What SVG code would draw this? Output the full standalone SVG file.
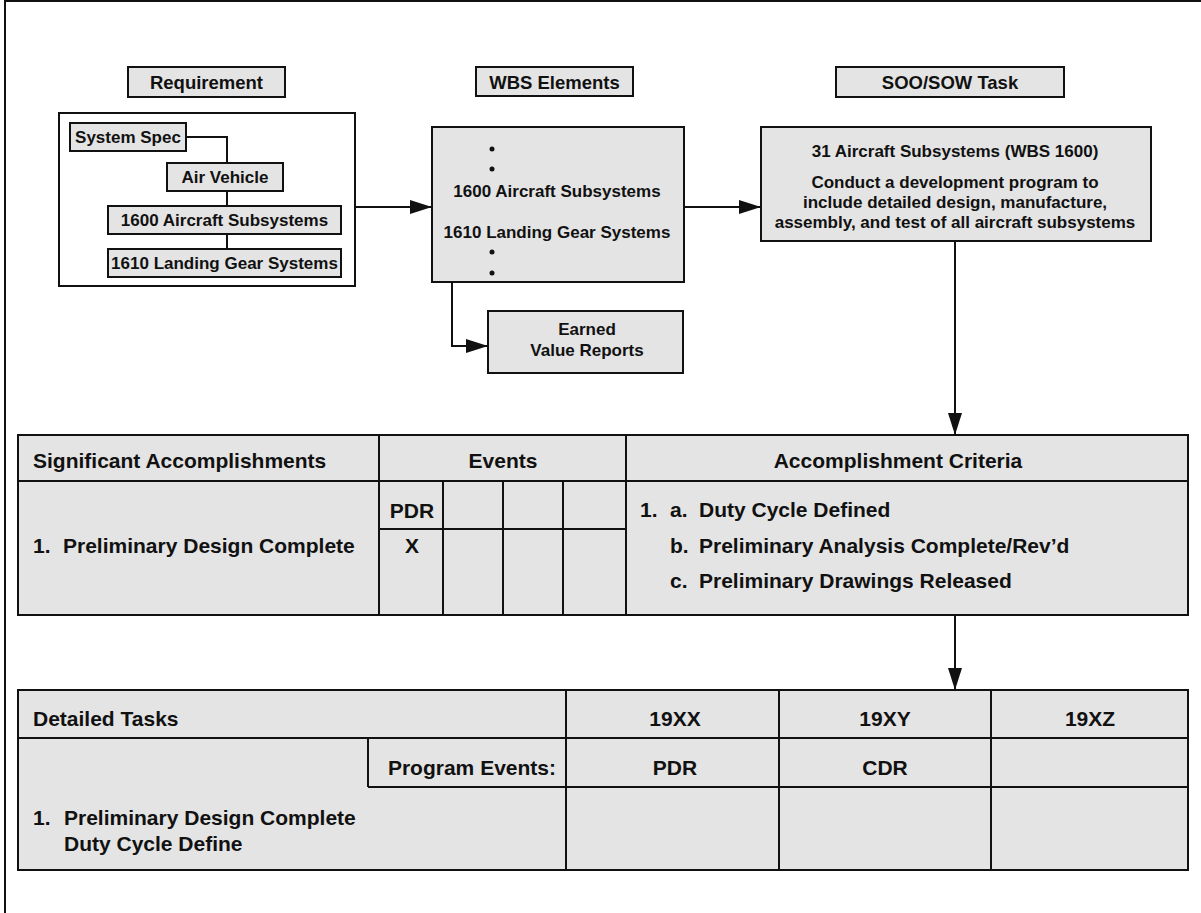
<svg xmlns="http://www.w3.org/2000/svg" width="1201" height="913" viewBox="0 0 1201 913">
<style>
text{font-family:"Liberation Sans",Arial,Helvetica,sans-serif;font-weight:bold;fill:#111}
.hd{font-size:18.5px;text-anchor:middle}
.bx{font-size:17px;text-anchor:middle}
.tb{font-size:21px}
.c{text-anchor:middle}
.r{text-anchor:end}
.box{fill:#e4e4e4;stroke:#111;stroke-width:2}
.wb{fill:#fff;stroke:#111;stroke-width:2}
.ln{stroke:#111;stroke-width:2;fill:none}
.gl{stroke:#111;stroke-width:2}
</style>
<defs>
<marker id="ah" markerWidth="22" markerHeight="14" refX="22" refY="7" orient="auto" markerUnits="userSpaceOnUse">
<path d="M0,0 L22,7 L0,14 Z" fill="#111"/>
</marker>
</defs>
<rect width="1201" height="913" fill="#fff"/>
<g id="frame">
<line x1="5" y1="1" x2="1201" y2="1" class="gl"/>
<line x1="5" y1="0" x2="5" y2="913" class="gl"/>
</g>

<g id="hdr-requirement">
<rect x="128" y="67" width="157" height="30" class="box"/>
<text x="206.5" y="89" class="hd">Requirement</text>
</g>
<g id="hdr-wbs">
<rect x="476" y="67" width="157" height="29" class="box"/>
<text x="554.5" y="89" class="hd">WBS Elements</text>
</g>
<g id="hdr-soo">
<rect x="836" y="67" width="228" height="30" class="box"/>
<text x="950" y="89" class="hd">SOO/SOW Task</text>
</g>

<g id="requirement">
<rect x="59" y="113" width="296" height="173" class="wb"/>
<g id="req-links">
<path d="M186,137 H227 V163 M227,191 V206 M227,234 V249" class="ln"/>
</g>
<g id="system-spec">
<rect x="70" y="123" width="116" height="28" class="box"/>
<text x="128" y="143" class="bx">System Spec</text>
</g>
<g id="air-vehicle">
<rect x="167" y="163" width="116" height="28" class="box"/>
<text x="225" y="183" class="bx">Air Vehicle</text>
</g>
<g id="req-1600">
<rect x="108" y="206" width="233" height="28" class="box"/>
<text x="224.5" y="226" class="bx">1600 Aircraft Subsystems</text>
</g>
<g id="req-1610">
<rect x="108" y="249" width="233" height="28" class="box"/>
<text x="224.5" y="269" class="bx">1610 Landing Gear Systems</text>
</g>
</g>

<g id="wbs">
<rect x="432" y="127" width="252" height="155" class="box"/>
<circle cx="492" cy="149" r="2.5" fill="#111"/>
<circle cx="492" cy="169" r="2.5" fill="#111"/>
<text x="557" y="197" class="bx">1600 Aircraft Subsystems</text>
<text x="557" y="238" class="bx">1610 Landing Gear Systems</text>
<circle cx="492" cy="252" r="2.5" fill="#111"/>
<circle cx="492" cy="273" r="2.5" fill="#111"/>
</g>

<g id="earned-value">
<rect x="488" y="311" width="195" height="62" class="box"/>
<text x="587" y="335" class="bx">Earned</text>
<text x="587" y="356" class="bx">Value Reports</text>
</g>

<g id="soo">
<rect x="761" y="127" width="390" height="114" class="box"/>
<text x="955" y="157" class="bx">31 Aircraft Subsystems (WBS 1600)</text>
<text x="955" y="188" class="bx">Conduct a development program to</text>
<text x="955" y="208" class="bx">include detailed design, manufacture,</text>
<text x="955" y="228" class="bx">assembly, and test of all aircraft subsystems</text>
</g>

<g id="table-accomplishments">
<rect x="18" y="435" width="1170" height="180" class="box"/>
<line x1="18" y1="481" x2="1188" y2="481" class="gl"/>
<line x1="379" y1="435" x2="379" y2="615" class="gl"/>
<line x1="626" y1="435" x2="626" y2="615" class="gl"/>
<line x1="443" y1="481" x2="443" y2="615" class="gl"/>
<line x1="503" y1="481" x2="503" y2="615" class="gl"/>
<line x1="563" y1="481" x2="563" y2="615" class="gl"/>
<line x1="379" y1="529" x2="626" y2="529" class="gl"/>
<text x="33" y="468" class="tb">Significant Accomplishments</text>
<text x="503" y="468" class="tb c">Events</text>
<text x="898" y="468" class="tb c">Accomplishment Criteria</text>
<text x="33" y="553" class="tb">1.</text>
<text x="63" y="553" class="tb">Preliminary Design Complete</text>
<text x="412" y="518" class="tb c">PDR</text>
<text x="412" y="553" class="tb c">X</text>
<text x="640" y="517" class="tb">1.</text>
<text x="670" y="517" class="tb">a.</text>
<text x="699" y="517" class="tb">Duty Cycle Defined</text>
<text x="670" y="553" class="tb">b.</text>
<text x="699" y="553" class="tb">Preliminary Analysis Complete/Rev’d</text>
<text x="670" y="588" class="tb">c.</text>
<text x="699" y="588" class="tb">Preliminary Drawings Released</text>
</g>

<g id="table-detailed-tasks">
<rect x="18" y="690" width="1170" height="180" class="box"/>
<line x1="18" y1="738" x2="1188" y2="738" class="gl"/>
<line x1="566" y1="690" x2="566" y2="870" class="gl"/>
<line x1="779" y1="690" x2="779" y2="870" class="gl"/>
<line x1="991" y1="690" x2="991" y2="870" class="gl"/>
<line x1="368" y1="738" x2="368" y2="787" class="gl"/>
<line x1="368" y1="787" x2="1188" y2="787" class="gl"/>
<text x="33" y="726" class="tb">Detailed Tasks</text>
<text x="675" y="726" class="tb c">19XX</text>
<text x="885" y="726" class="tb c">19XY</text>
<text x="1090" y="726" class="tb c">19XZ</text>
<text x="556" y="775" class="tb r">Program Events:</text>
<text x="675" y="775" class="tb c">PDR</text>
<text x="885" y="775" class="tb c">CDR</text>
<text x="33" y="825" class="tb">1.</text>
<text x="64" y="825" class="tb">Preliminary Design Complete</text>
<text x="64" y="851" class="tb">Duty Cycle Define</text>
</g>

<g id="connectors">
<line x1="355" y1="207" x2="432" y2="207" class="ln" marker-end="url(#ah)"/>
<line x1="684" y1="207" x2="761" y2="207" class="ln" marker-end="url(#ah)"/>
<path d="M452,282 V346 H488" class="ln" marker-end="url(#ah)"/>
<line x1="955" y1="241" x2="955" y2="435" class="ln" marker-end="url(#ah)"/>
<line x1="955" y1="615" x2="955" y2="690" class="ln" marker-end="url(#ah)"/>
</g>
</svg>
